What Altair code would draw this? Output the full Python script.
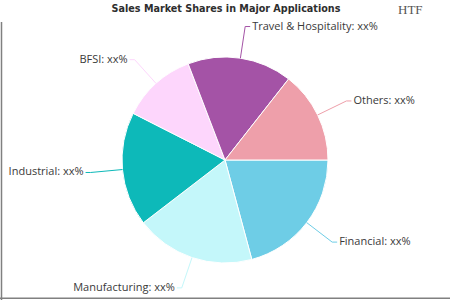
import altair as alt
import pandas as pd

categories = ["Financial", "Manufacturing", "Industrial", "BFSI", "Travel & Hospitality", "Others"]
shares = [20.8, 18.75, 17.9, 11.7, 16.4, 14.4]
label_texts = ["Financial: xx%", "Manufacturing: xx%", "Industrial: xx%", "BFSI: xx%",
               "Travel & Hospitality: xx%", "Others: xx%"]
colors = ["#6ECDE6", "#C4F7FA", "#0DB9B9", "#FDD6FC", "#A453A6", "#EE9FAA"]
title_text = "Sales Market Shares in Major Applications"

df = pd.DataFrame({"category": categories, "share": shares, "label": label_texts,
                   "idx": list(range(len(categories)))})

CX, CY, R, RL = 225, 160, 103, 135
PI = 3.141592653589793

base = alt.Chart(df)

pie = base.mark_arc(stroke="white", strokeWidth=1).encode(
    theta=alt.Theta("share:Q", stack=True, scale=alt.Scale(range=[PI / 2, PI / 2 + 2 * PI])),
    order=alt.Order("idx:Q"),
    color=alt.Color("category:N", scale=alt.Scale(domain=categories, range=colors), legend=None),
    x=alt.value(CX), y=alt.value(CY), radius=alt.value(R),
)

geo = base.transform_joinaggregate(total="sum(share)").transform_window(
    cum="sum(share)", sort=[alt.SortField("idx")], frame=[None, 0]
).transform_calculate(
    a=f"{PI/2} + 2*PI*(datum.cum - datum.share/2)/datum.total",
).transform_calculate(
    x0=f"{CX} + {R}*sin(datum.a)", y0=f"{CY} - {R}*cos(datum.a)",
    x1=f"{CX} + {RL}*sin(datum.a)", y1=f"{CY} - {RL}*cos(datum.a)",
    side="sin(datum.a) >= 0 ? 1 : -1",
).transform_calculate(
    x2="datum.x1 + datum.side*5",
).transform_calculate(
    xt="datum.x2 + datum.side*2",
)

cscale = alt.Scale(domain=categories, range=colors)

leader1 = geo.mark_rule(strokeWidth=1).encode(
    x=alt.X("x0:Q", scale=None), y=alt.Y("y0:Q", scale=None),
    x2="x1:Q", y2="y1:Q",
    color=alt.Color("category:N", scale=cscale, legend=None),
)
leader2 = geo.mark_rule(strokeWidth=1).encode(
    x=alt.X("x1:Q", scale=None), y=alt.Y("y1:Q", scale=None),
    x2="x2:Q", y2="y1:Q",
    color=alt.Color("category:N", scale=cscale, legend=None),
)

labels_right = geo.transform_filter("datum.side > 0").mark_text(
    align="left", baseline="middle", font="Open Sans", fontSize=11, color="#3a3a3a"
).encode(x=alt.X("xt:Q", scale=None), y=alt.Y("y1:Q", scale=None), text="label:N")
labels_left = geo.transform_filter("datum.side < 0").mark_text(
    align="right", baseline="middle", font="Open Sans", fontSize=11, color="#3a3a3a"
).encode(x=alt.X("xt:Q", scale=None), y=alt.Y("y1:Q", scale=None), text="label:N")

title = alt.Chart(pd.DataFrame({"t": [title_text]})).mark_text(
    font="DejaVu Sans Condensed", fontWeight="bold", fontSize=10.7, color="#2e2e2e",
    align="center", baseline="middle"
).encode(x=alt.value(226), y=alt.value(9), text="t:N")

logo = alt.Chart(pd.DataFrame({"t": ["HTF"]})).mark_text(
    font="Liberation Sans Narrow", fontSize=13, color="#555555", align="left", baseline="middle"
).encode(x=alt.value(398), y=alt.value(10), text="t:N")

border_left = alt.Chart(pd.DataFrame({"d": [0]})).mark_rule(color="#808080", strokeWidth=1.5).encode(
    x=alt.value(1.5), y=alt.value(22), y2=alt.value(300))
border_bottom = alt.Chart(pd.DataFrame({"d": [0]})).mark_rule(color="#808080", strokeWidth=1.5).encode(
    x=alt.value(0), x2=alt.value(450), y=alt.value(298.3))

chart = alt.layer(pie, leader1, leader2, labels_right, labels_left, title, logo,
                  border_left, border_bottom).properties(
    width=450, height=300, autosize=alt.AutoSizeParams(type="none"), padding=0
).configure_view(stroke=None)

chart.save("out.html", embed_options={"renderer": "svg", "actions": False})
